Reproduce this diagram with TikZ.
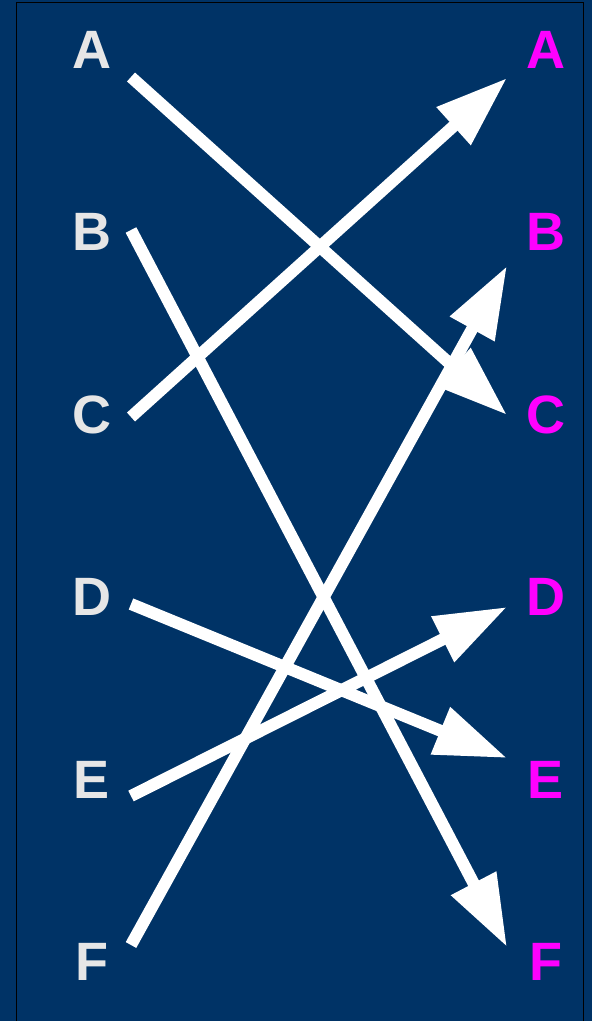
\documentclass[tikz,border=0pt]{standalone}
\usepackage{fontspec}
\setmainfont{Liberation Sans}
\usetikzlibrary{arrows.meta}
\definecolor{bg}{RGB}{0,51,102}
\definecolor{lefttext}{RGB}{230,230,230}
\definecolor{righttext}{RGB}{255,0,255}
\begin{document}
\begin{tikzpicture}[x=1pt,y=-1pt,
  lbl/.style={font=\fontsize{54}{54}\selectfont\bfseries, inner sep=0pt, anchor=center},
  leftlbl/.style={lbl, text=lefttext},
  rightlbl/.style={lbl, text=righttext},
  conn/.style={draw=white, line width=12pt, -{Triangle[length=72pt,width=48pt]}}]
\fill[bg] (0,0) rectangle (592,1021);
\useasboundingbox (0,0) rectangle (592,1021);
\draw[black, line width=1.2pt] (16.5,1030) -- (16.5,2.5) -- (583.5,2.5) -- (583.5,1030);
% labels
\foreach \l [count=\i from 0] in {A,B,C,D,E,F}{
  \node[leftlbl] (l\l) at (92,{50+182.4*\i}) {\l};
  \node[rightlbl] (r\l) at (546,{50+182.4*\i}) {\l};
}
% start and end points
\coordinate (sA) at (131,77);
\coordinate (sB) at (131,230);
\coordinate (sC) at (131,417);
\coordinate (sD) at (131,604);
\coordinate (sE) at (131,796);
\coordinate (sF) at (131,945);
\coordinate (tA) at (507,78);
\coordinate (tB) at (507,266);
\coordinate (tC) at (507,415);
\coordinate (tD) at (507,607);
\coordinate (tE) at (507,758);
\coordinate (tF) at (507,947);
\draw[conn] (sA) -- (tC);
\draw[conn] (sB) -- (tF);
\draw[conn] (sC) -- (tA);
\draw[conn] (sD) -- (tE);
\draw[conn] (sE) -- (tD);
\draw[conn] (sF) -- (tB);
\end{tikzpicture}
\end{document}
